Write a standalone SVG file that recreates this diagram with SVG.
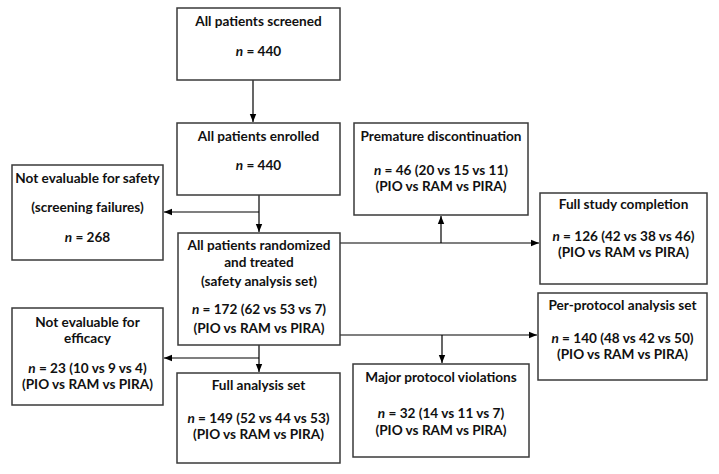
<svg xmlns="http://www.w3.org/2000/svg" width="719" height="474" viewBox="0 0 719 474">
<defs>
<marker id="ah" markerUnits="userSpaceOnUse" markerWidth="8" markerHeight="8" viewBox="0 0 8 8" refX="8" refY="4" orient="auto">
<path d="M0,0.8 L8,4 L0,7.2 Z" fill="#000"/>
</marker>
<style>
.box{fill:#fff;stroke:#3a3a3a;stroke-width:1.5}
.t{font-family:Lato,"Open Sans","Liberation Sans",sans-serif;font-weight:700;font-size:13.6px;fill:#111;text-anchor:middle}
.i{font-style:italic}
.c{fill:none;stroke:#000;stroke-width:1.2}
</style>
</defs>
<g id="connectors">
<path class="c" d="M253,80 V122" marker-end="url(#ah)"/>
<path class="c" d="M259,195 V232" marker-end="url(#ah)"/>
<path class="c" d="M259,212 H164" marker-end="url(#ah)"/>
<path class="c" d="M340,243 H539" marker-end="url(#ah)"/>
<path class="c" d="M441,243 V216" marker-end="url(#ah)"/>
<path class="c" d="M340,335 H537" marker-end="url(#ah)"/>
<path class="c" d="M442,335 V363" marker-end="url(#ah)"/>
<path class="c" d="M259,345 V372" marker-end="url(#ah)"/>
<path class="c" d="M259,358 H164" marker-end="url(#ah)"/>
</g>
<g id="screened">
<rect class="box" x="177" y="8" width="163" height="72"/>
<text class="t" x="258.5" y="26">All patients screened</text>
<text class="t" x="258.5" y="56"><tspan class="i">n</tspan> = 440</text>
</g>
<g id="enrolled">
<rect class="box" x="177" y="123" width="163" height="72"/>
<text class="t" x="258.5" y="141">All patients enrolled</text>
<text class="t" x="258.5" y="170"><tspan class="i">n</tspan> = 440</text>
</g>
<g id="not-safety">
<rect class="box" x="12" y="165" width="151" height="95"/>
<text class="t" x="87.5" y="183">Not evaluable for safety</text>
<text class="t" x="87.5" y="212">(screening failures)</text>
<text class="t" x="87.5" y="242"><tspan class="i">n</tspan> = 268</text>
</g>
<g id="randomized">
<rect class="box" x="178" y="233" width="162" height="112"/>
<text class="t" x="259" y="250">All patients randomized</text>
<text class="t" x="259" y="267">and treated</text>
<text class="t" x="259" y="286">(safety analysis set)</text>
<text class="t" x="259" y="314"><tspan class="i">n</tspan> = 172 (62 vs 53 vs 7)</text>
<text class="t" x="259" y="333">(PIO vs RAM vs PIRA)</text>
</g>
<g id="premature">
<rect class="box" x="354" y="123" width="174" height="92"/>
<text class="t" x="441" y="141">Premature discontinuation</text>
<text class="t" x="441" y="175"><tspan class="i">n</tspan> = 46 (20 vs 15 vs 11)</text>
<text class="t" x="441" y="191">(PIO vs RAM vs PIRA)</text>
</g>
<g id="completion">
<rect class="box" x="540" y="193" width="167" height="91"/>
<text class="t" x="623.5" y="209">Full study completion</text>
<text class="t" x="623.5" y="241"><tspan class="i">n</tspan> = 126 (42 vs 38 vs 46)</text>
<text class="t" x="623.5" y="257">(PIO vs RAM vs PIRA)</text>
</g>
<g id="per-protocol">
<rect class="box" x="538" y="293" width="169" height="87"/>
<text class="t" x="622.5" y="310">Per-protocol analysis set</text>
<text class="t" x="622.5" y="343"><tspan class="i">n</tspan> = 140 (48 vs 42 vs 50)</text>
<text class="t" x="622.5" y="359">(PIO vs RAM vs PIRA)</text>
</g>
<g id="not-efficacy">
<rect class="box" x="12" y="308" width="151" height="97"/>
<text class="t" x="87.5" y="327">Not evaluable for</text>
<text class="t" x="87.5" y="343">efficacy</text>
<text class="t" x="87.5" y="373"><tspan class="i">n</tspan> = 23 (10 vs 9 vs 4)</text>
<text class="t" x="87.5" y="389">(PIO vs RAM vs PIRA)</text>
</g>
<g id="full-analysis">
<rect class="box" x="177" y="373" width="163" height="90"/>
<text class="t" x="258.5" y="390">Full analysis set</text>
<text class="t" x="258.5" y="423"><tspan class="i">n</tspan> = 149 (52 vs 44 vs 53)</text>
<text class="t" x="258.5" y="439">(PIO vs RAM vs PIRA)</text>
</g>
<g id="major-violations">
<rect class="box" x="353" y="364" width="176" height="93"/>
<text class="t" x="441" y="382">Major protocol violations</text>
<text class="t" x="441" y="418"><tspan class="i">n</tspan> = 32 (14 vs 11 vs 7)</text>
<text class="t" x="441" y="435">(PIO vs RAM vs PIRA)</text>
</g>
</svg>
